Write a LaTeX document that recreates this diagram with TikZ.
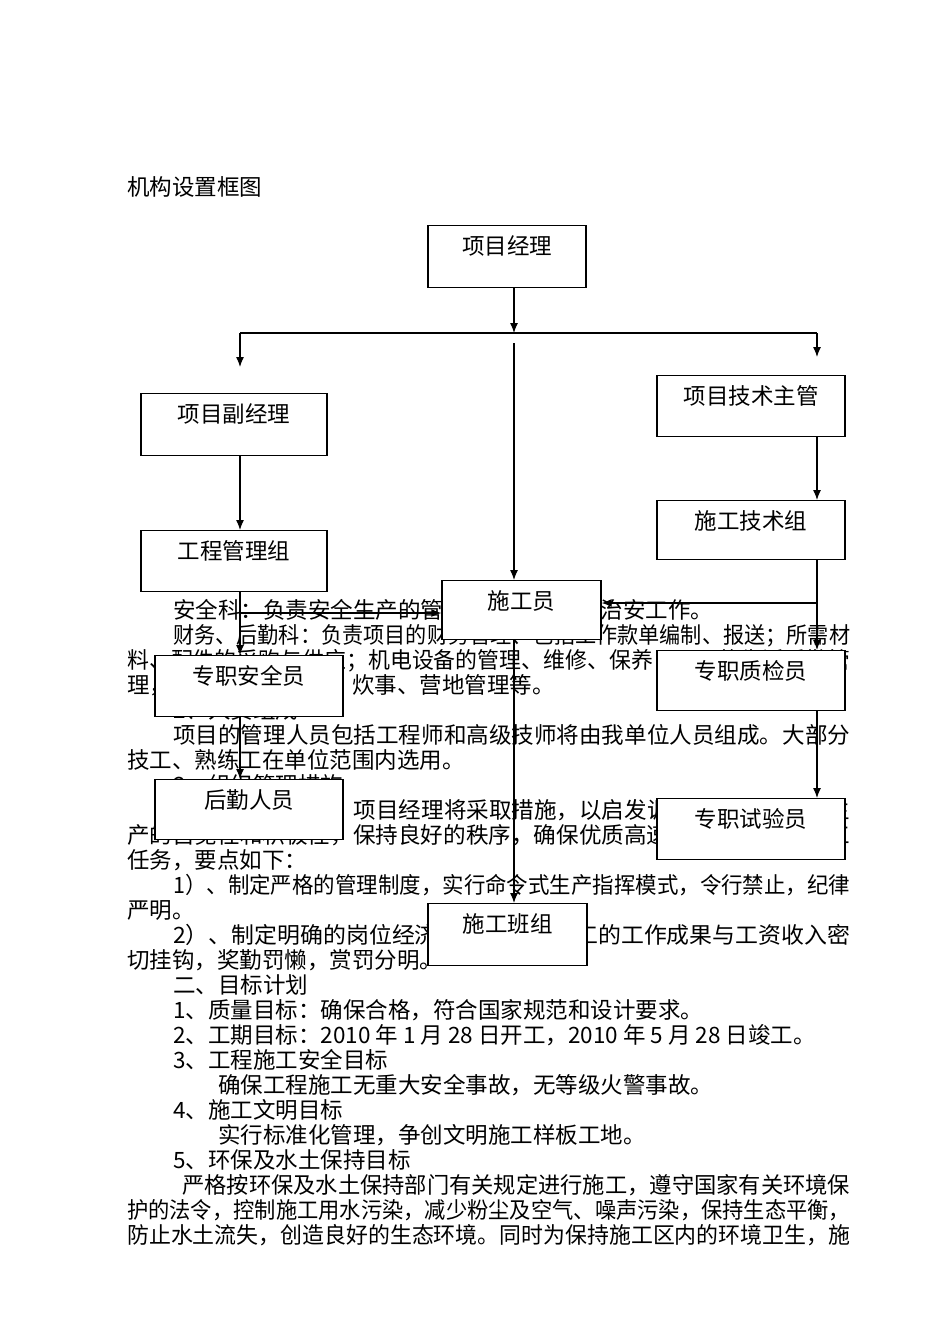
\documentclass[tikz,border=0pt]{standalone}
\usepackage{fontspec}
\setmainfont{Noto Sans CJK SC}
\usetikzlibrary{arrows.meta}
\newcommand\txtline[3]{\node[anchor=base west,inner sep=0] at (#1,#2) {#3};}
\newcommand\fulline[3]{\node[anchor=base west,inner sep=0] at (#1,#2) {\resizebox{\dimexpr850pt-#1pt\relax}{\height}{#3}};}
\begin{document}
\begin{tikzpicture}[x=1pt,y=-1pt,font=\fontsize{22.5pt}{25pt}\selectfont,
  orgbox/.style={draw,fill=white,line width=1.2pt,inner xsep=0,inner ysep=0,
    text height=28.5pt,text depth=33pt,anchor=north},
  link/.style={line width=1.2pt,-{Latex[length=10pt,width=8pt]}}]
\path[use as bounding box] (0,0) rectangle (950,1344);
\def\lx{240}
\def\mx{514}
\def\rx{817}
\coordinate (lx) at (\lx,0);
\coordinate (mx) at (\mx,0);
\coordinate (rx) at (\rx,0);

\txtline{127}{195.5}{机构设置框图}

% body text, partly under the boxes
\txtline{173}{618.5}{安全科：负责安全生产的管理、文明施工及治安工作。}
\fulline{173}{643.5}{财务、后勤科：负责项目的财务管理、包括工作款单编制、报送；所需材}
\fulline{127}{668.5}{料、配件的采购与供应；机电设备的管理、维修、保养；项目的生活后勤管}
\txtline{127}{693.5}{理，职工住宿、医疗、炊事、营地管理等。}
\txtline{173}{718.5}{2、人员组成}
\fulline{173}{743.5}{项目的管理人员包括工程师和高级技师将由我单位人员组成。大部分}
\txtline{127}{768.5}{技工、熟练工在单位范围内选用。}
\txtline{173}{793.5}{3、组织管理措施}
\fulline{173}{818.5}{为保证工程质量，项目经理将采取措施，以启发调动全体施工人员生}
\fulline{127}{843.5}{产的自觉性和积极性，保持良好的秩序，确保优质高速完成本工程的施工}
\txtline{127}{868.5}{任务，要点如下：}
\fulline{173}{893.5}{1）、制定严格的管理制度，实行命令式生产指挥模式，令行禁止，纪律}
\txtline{127}{918.5}{严明。}
\fulline{173}{943.5}{2）、制定明确的岗位经济责任制，将职工的工作成果与工资收入密}
\txtline{127}{968.5}{切挂钩，奖勤罚懒，赏罚分明。}
\txtline{173}{993.5}{二、目标计划}
\txtline{173}{1018.5}{1、质量目标：确保合格，符合国家规范和设计要求。}
\txtline{173}{1043.5}{2、工期目标：2010 年 1 月 28 日开工，2010 年 5 月 28 日竣工。}
\txtline{173}{1068.5}{3、工程施工安全目标}
\txtline{218}{1093.5}{确保工程施工无重大安全事故，无等级火警事故。}
\txtline{173}{1118.5}{4、施工文明目标}
\txtline{218}{1143.5}{实行标准化管理，争创文明施工样板工地。}
\txtline{173}{1168.5}{5、环保及水土保持目标}
\fulline{182}{1193.5}{严格按环保及水土保持部门有关规定进行施工，遵守国家有关环境保}
\fulline{127}{1218.5}{护的法令，控制施工用水污染，减少粉尘及空气、噪声污染，保持生态平衡，}
\fulline{127}{1243.5}{防止水土流失，创造良好的生态环境。同时为保持施工区内的环境卫生，施}

% boxes
\node[orgbox,minimum width=158pt] (pm) at (507,225) {项目经理};
\node[orgbox,minimum width=186pt] (vpm) at (234,393) {项目副经理};
\node[orgbox,minimum width=188pt,text depth=32pt] (tech) at (751,375) {项目技术主管};
\node[orgbox,minimum width=186pt,text depth=32pt] (eng) at (234,530) {工程管理组};
\node[orgbox,minimum width=188pt,text depth=30pt] (ttg) at (751,500) {施工技术组};
\node[orgbox,minimum width=159pt,text depth=30pt] (worker) at (521.5,580) {施工员};
\node[orgbox,minimum width=188pt,text depth=32pt] (safety) at (249,655) {专职安全员};
\node[orgbox,minimum width=188pt,text depth=31pt] (qc) at (751,650) {专职质检员};
\node[orgbox,minimum width=188pt,text depth=31pt] (logi) at (249,779) {后勤人员};
\node[orgbox,minimum width=188pt,text depth=32pt] (test) at (751,798) {专职试验员};
\node[orgbox,minimum width=159pt] (team) at (507.5,903) {施工班组};

% connectors
\coordinate (busL) at (\lx,333);
\coordinate (busR) at (\rx,333);
\coordinate (jL) at (\lx,613);
\coordinate (jR) at (\rx,603);
\draw[link] (pm.south -| mx) -- (mx |- busL);
\draw[line width=1.2pt] (busL) -- (busR);
\draw[link,shorten >=26pt] (busL) -- (busL |- vpm.north);
\draw[link,shorten >=18pt] (busR) -- (busR |- tech.north);
\draw[link,shorten <=10pt] (mx |- busL) -- (mx |- worker.north);
\draw[link] (vpm.south -| lx) -- (eng.north -| lx);
\draw[link] (eng.south -| lx) -- (safety.north -| lx);
\draw[link] (jL) -- (jL -| worker.west);
\draw[link] (safety.south -| lx) -- (logi.north -| lx);
\draw[link] (tech.south -| rx) -- (ttg.north -| rx);
\draw[link] (ttg.south -| rx) -- (qc.north -| rx);
\draw[link] (jR) -- (jR -| worker.east);
\draw[link] (qc.south -| rx) -- (test.north -| rx);
\draw[link] (worker.south -| mx) -- (team.north -| mx);
\end{tikzpicture}
\end{document}
